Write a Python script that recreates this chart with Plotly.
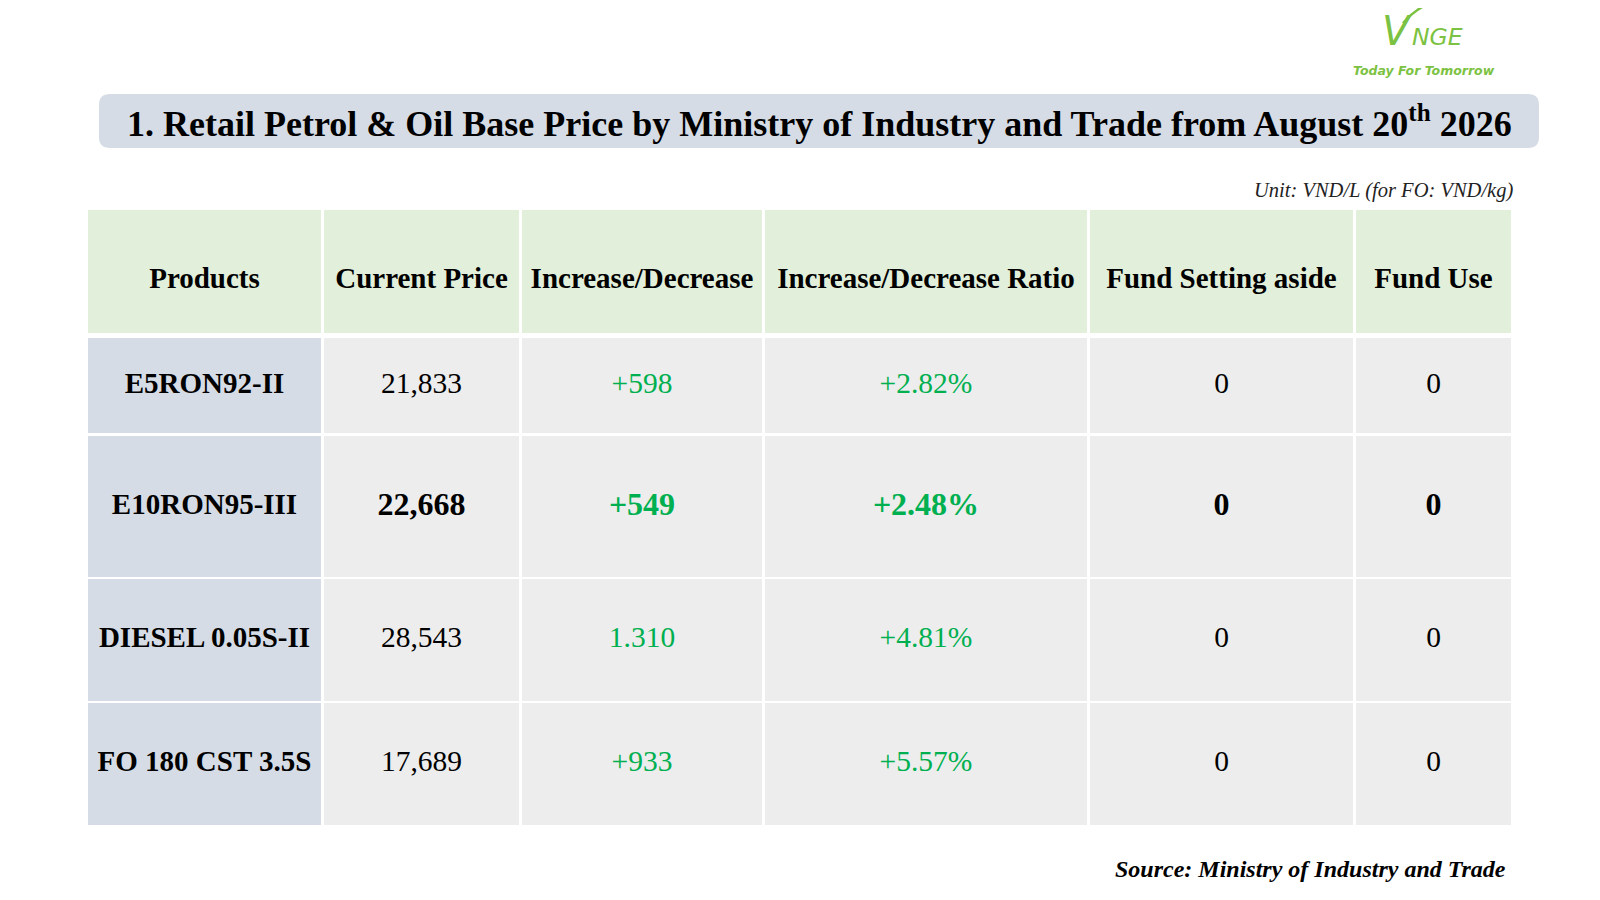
import plotly.graph_objects as go

# ---------------- data ----------------
headers = ["Products", "Current Price", "Increase/Decrease",
           "Increase/Decrease Ratio", "Fund Setting aside", "Fund Use"]
products = ["E5RON92-II", "E10RON95-III", "DIESEL 0.05S-II", "FO 180 CST 3.5S"]
current_price = [21833, 22668, 28543, 17689]
change_labels = ["+598", "+549", "1.310", "+933"]
ratio_labels = ["+2.82%", "+2.48%", "+4.81%", "+5.57%"]
fund_setting = [0, 0, 0, 0]
fund_use = [0, 0, 0, 0]
highlight_row = 1  # bold / larger row

title = "1. Retail Petrol & Oil Base Price by Ministry of Industry and Trade from August 20<sup>th</sup> 2026"
unit_note = "Unit: VND/L (for FO: VND/kg)"
source_note = "Source: Ministry of Industry and Trade"
logo_big, logo_small, logo_tagline = "V", "NGE", "Today For Tomorrow"

# ---------------- layout / style ----------------
W, H = 1600, 900
OFF = 8  # page body margin
col_spans = [(88, 321), (324, 519), (522, 762), (765, 1087), (1090, 1353), (1356, 1511)]
row_spans = [(210, 333), (338, 433), (436, 577), (579, 701), (703, 825)]
HEADER_TEXT_SHIFT = 9
SERIF = "Liberation Serif, Times New Roman, serif"
LOGO_FONT = "DejaVu Sans, Verdana, sans-serif"
C_HEAD = "#E2EFDA"
C_PROD = "#D6DCE5"
C_CELL = "#EDEDED"
C_GREEN = "#00B050"
C_LOGO = "#7CC242"

fig = go.Figure()
shapes = []

# title box (rounded)
x0, x1, y0, y1, r = 99, 1539, 94, 148, 11
shapes.append(dict(
    type="path", xref="x", yref="y", fillcolor=C_PROD, line=dict(width=0), layer="below",
    path=(f"M{x0+r},{y0} L{x1-r},{y0} Q{x1},{y0} {x1},{y0+r} L{x1},{y1-r} Q{x1},{y1} {x1-r},{y1} "
          f"L{x0+r},{y1} Q{x0},{y1} {x0},{y1-r} L{x0},{y0+r} Q{x0},{y0} {x0+r},{y0} Z")))

# logo swoosh
shapes.append(dict(type="path", xref="x", yref="y", layer="above",
                   path="M1403,23 Q1414,10 1430,3",
                   line=dict(color=C_LOGO, width=2.5)))

# table cells
for ri, (ry0, ry1) in enumerate(row_spans):
    for ci, (cx0, cx1) in enumerate(col_spans):
        if ri == 0:
            fill = C_HEAD
        elif ci == 0:
            fill = C_PROD
        else:
            fill = C_CELL
        shapes.append(dict(type="rect", xref="x", yref="y", layer="below",
                           x0=cx0, x1=cx1, y0=ry0, y1=ry1,
                           fillcolor=fill, line=dict(width=0)))

# cell texts
xs, ys, texts, colors, sizes = [], [], [], [], []
cx = [(a + b) / 2 for a, b in col_spans]
cy = [(a + b) / 2 for a, b in row_spans]
for ci, h in enumerate(headers):
    xs.append(cx[ci]); ys.append(cy[0] + HEADER_TEXT_SHIFT); texts.append(f"<b>{h}</b>")
    colors.append("black"); sizes.append(29)
for ri in range(len(products)):
    y = cy[ri + 1]
    hl = ri == highlight_row
    row_vals = [f"{current_price[ri]:,}", change_labels[ri], ratio_labels[ri],
                str(fund_setting[ri]), str(fund_use[ri])]
    row_cols = ["black", C_GREEN, C_GREEN, "black", "black"]
    xs.append(cx[0]); ys.append(y); texts.append(f"<b>{products[ri]}</b>")
    colors.append("black"); sizes.append(29)
    for k, (v, c) in enumerate(zip(row_vals, row_cols)):
        xs.append(cx[k + 1]); ys.append(y)
        texts.append(f"<b>{v}</b>" if hl else v)
        colors.append(c); sizes.append(32 if hl else 29.5)

fig.add_trace(go.Scatter(x=xs, y=ys, mode="text", text=texts,
                         textposition="middle center",
                         textfont=dict(family=SERIF, color=colors, size=sizes),
                         hoverinfo="skip", showlegend=False))

annotations = [
    dict(x=(x0 + x1) / 2, y=121.5, xref="x", yref="y", text=f"<b>{title}</b>",
         showarrow=False, font=dict(family=SERIF, size=36, color="black"),
         xanchor="center", yanchor="middle"),
    dict(x=1515, y=190, xref="x", yref="y", text=f"<i>{unit_note}</i>",
         showarrow=False, font=dict(family=SERIF, size=20.5, color="#222222"),
         xanchor="right", yanchor="middle"),
    dict(x=1508, y=869, xref="x", yref="y", text=f"<b><i>{source_note}</i></b>",
         showarrow=False, font=dict(family=SERIF, size=24, color="black"),
         xanchor="right", yanchor="middle"),
    # logo
    dict(x=1397, y=31, xref="x", yref="y", text=f"<i>{logo_big}</i>",
         showarrow=False, font=dict(family=LOGO_FONT, size=40, color=C_LOGO),
         xanchor="center", yanchor="middle"),
    dict(x=1410, y=37, xref="x", yref="y", text=f"<i>{logo_small}</i>",
         showarrow=False, font=dict(family=LOGO_FONT, size=23.5, color=C_LOGO),
         xanchor="left", yanchor="middle"),
    dict(x=1424, y=70, xref="x", yref="y", text=f"<b><i>{logo_tagline}</i></b>",
         showarrow=False, font=dict(family=LOGO_FONT, size=12.5, color=C_LOGO),
         xanchor="center", yanchor="middle"),
]

fig.update_layout(
    width=W, height=H, margin=dict(l=0, r=0, t=0, b=0),
    paper_bgcolor="white", plot_bgcolor="white",
    xaxis=dict(range=[OFF, W + OFF], visible=False, fixedrange=True),
    yaxis=dict(range=[H + OFF, OFF], visible=False, fixedrange=True),
    shapes=shapes, annotations=annotations, showlegend=False,
)

fig.write_html("out.html")
